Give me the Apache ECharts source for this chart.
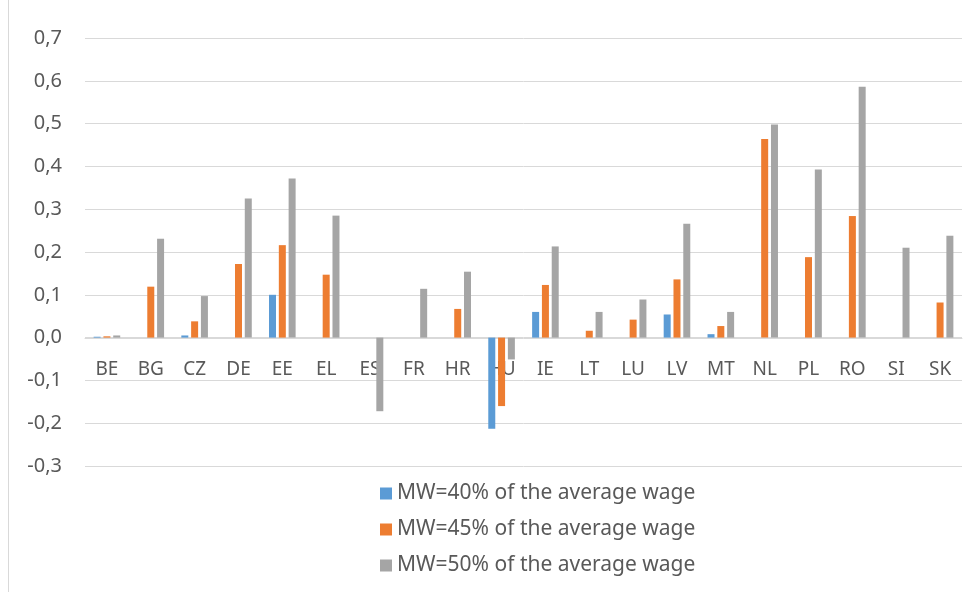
<!DOCTYPE html>
<html>
<head>
<meta charset="utf-8">
<script src="https://cdn.jsdelivr.net/npm/echarts@6/dist/echarts.min.js"></script>
<style>
  html, body { margin: 0; padding: 0; background: #fff; }
  #chart { width: 975px; height: 592px; }
</style>
</head>
<body>
<div id="chart"></div>
<script>
// countries
const categories = ['BE', 'BG', 'CZ', 'DE', 'EE', 'EL', 'ES', 'FR', 'HR', 'HU', 'IE', 'LT', 'LU', 'LV', 'MT', 'NL', 'PL', 'RO', 'SI', 'SK']
// MW = 40 / 45 / 50 % of the average wage
const mw40 = [0.002, 0, 0.005, 0, 0.100, 0, 0, 0, 0, -0.213, 0.060, 0, 0, 0.054, 0.008, 0, 0, 0, 0, 0]
const mw45 = [0.003, 0.119, 0.038, 0.172, 0.216, 0.147, 0, 0, 0.067, -0.160, 0.123, 0.016, 0.042, 0.136, 0.027, 0.464, 0.188, 0.284, 0, 0.082]
const mw50 = [0.005, 0.231, 0.097, 0.325, 0.372, 0.285, -0.172, 0.114, 0.154, -0.051, 0.213, 0.060, 0.089, 0.266, 0.060, 0.498, 0.393, 0.586, 0.210, 0.238]
const seriesNames = ['MW=40% of the average wage', 'MW=45% of the average wage', 'MW=50% of the average wage']
const colors = ['#5B9BD5', '#ED7D31', '#A5A5A5']

const chart = echarts.init(document.getElementById('chart'))
const font = 'Noto Sans'

const option = {
  animation: false,
  color: colors,
  graphic: [
    {
      type: 'line',
      shape: { x1: 8.5, y1: 0, x2: 8.5, y2: 592 },
      style: { stroke: '#D9D9D9', lineWidth: 1 }
    }
  ],
  grid: {
    left: 85,
    right: 13,
    top: 38,
    bottom: 126
  },
  legend: {
    orient: 'vertical',
    left: 375,
    top: 478,
    itemWidth: 12,
    itemHeight: 12,
    itemGap: 15,
    icon: 'rect',
    textStyle: { fontFamily: font, fontSize: 21, lineHeight: 21, color: '#595959' },
    data: seriesNames
  },
  xAxis: {
    type: 'category',
    data: categories,
    // labels sit just under the zero line
    offset: -128,
    axisLine: { onZero: false, lineStyle: { color: '#D9D9D9', width: 1 } },
    axisTick: { show: false },
    axisLabel: { color: '#595959', fontFamily: font, fontSize: 19, margin: 22 }
  },
  yAxis: {
    type: 'value',
    min: -0.3,
    max: 0.7,
    interval: 0.1,
    axisLine: { show: false },
    axisTick: { show: false },
    splitLine: { lineStyle: { color: '#D9D9D9', width: 1 } },
    axisLabel: {
      color: '#595959',
      fontFamily: font,
      fontSize: 20,
      margin: 23,
      formatter: v => v.toFixed(1).replace('.', ',')
    }
  },
  series: [
    { name: seriesNames[0], type: 'bar', data: mw40, barWidth: 7, barGap: '40%' },
    { name: seriesNames[1], type: 'bar', data: mw45, barWidth: 7, barGap: '40%' },
    { name: seriesNames[2], type: 'bar', data: mw50, barWidth: 7, barGap: '40%' }
  ]
}

chart.setOption(option)
</script>
</body>
</html>
